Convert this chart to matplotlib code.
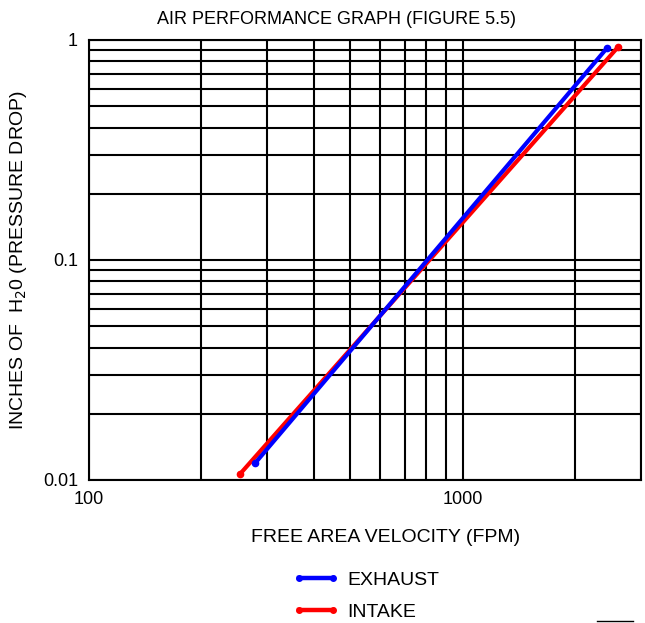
import matplotlib
matplotlib.use("Agg")
import matplotlib.pyplot as plt
from matplotlib.lines import Line2D
import numpy as np

plt.rcParams['font.family'] = ['Liberation Sans', 'DejaVu Sans']

exhaust_x = [278, 2430]
exhaust_y = [0.0119, 0.917]
intake_x = [253, 2610]
intake_y = [0.0106, 0.933]

fig = plt.figure(figsize=(6.45, 6.23), dpi=100)
ax = fig.add_axes([89/645, 1-480/623, (641-89)/645, (480-40)/623])
ax.set_xscale('log')
ax.set_yscale('log')
ax.set_xlim(100, 3000)
ax.set_ylim(0.01, 1)

ax.set_xticks([100, 1000])
ax.set_xticklabels(['100', '1000'])
ax.set_yticks([0.01, 0.1, 1])
ax.set_yticklabels(['0.01', '0.1', '1'])
ax.xaxis.set_minor_formatter(matplotlib.ticker.NullFormatter())
ax.yaxis.set_minor_formatter(matplotlib.ticker.NullFormatter())
ax.tick_params(which='both', length=0, labelsize=13)
ax.tick_params(axis='x', pad=8)
ax.tick_params(axis='y', pad=8)
ax.grid(True, which='both', color='black', lw=1.5)
for s in ax.spines.values():
    s.set_linewidth(1.5)
    s.set_color('black')

ax.plot(intake_x, intake_y, color='red', lw=3, marker='o', ms=4.5, solid_capstyle='round', label='INTAKE', zorder=3)
ax.plot(exhaust_x, exhaust_y, color='blue', lw=3, marker='o', ms=4.5, solid_capstyle='round', label='EXHAUST', zorder=4)

fig.text(337/645, 1-19/623, 'AIR PERFORMANCE GRAPH (FIGURE 5.5)', fontsize=13, ha='center', va='center')
fig.text(386/645, 1-538/623, 'FREE AREA VELOCITY (FPM)', fontsize=14, ha='center', va='center')
ax.set_ylabel('INCHES OF  H$_2$0 (PRESSURE DROP)', fontsize=14, labelpad=10)

handles = [Line2D([0], [0], color='blue', lw=3.2, marker='o', ms=4),
           Line2D([0], [0], color='red', lw=3.2, marker='o', ms=4)]
fig.legend(handles, ['EXHAUST', 'INTAKE'], loc='center left', bbox_to_anchor=(276/645, 1-596/623),
           frameon=False, numpoints=2, handlelength=2.35, fontsize=14, labelspacing=0.75, handletextpad=0.4)

fig.add_artist(Line2D([597/645, 633/645], [1-621/623, 1-621/623], color='black', lw=1))

fig.savefig('out.png', dpi=100)
